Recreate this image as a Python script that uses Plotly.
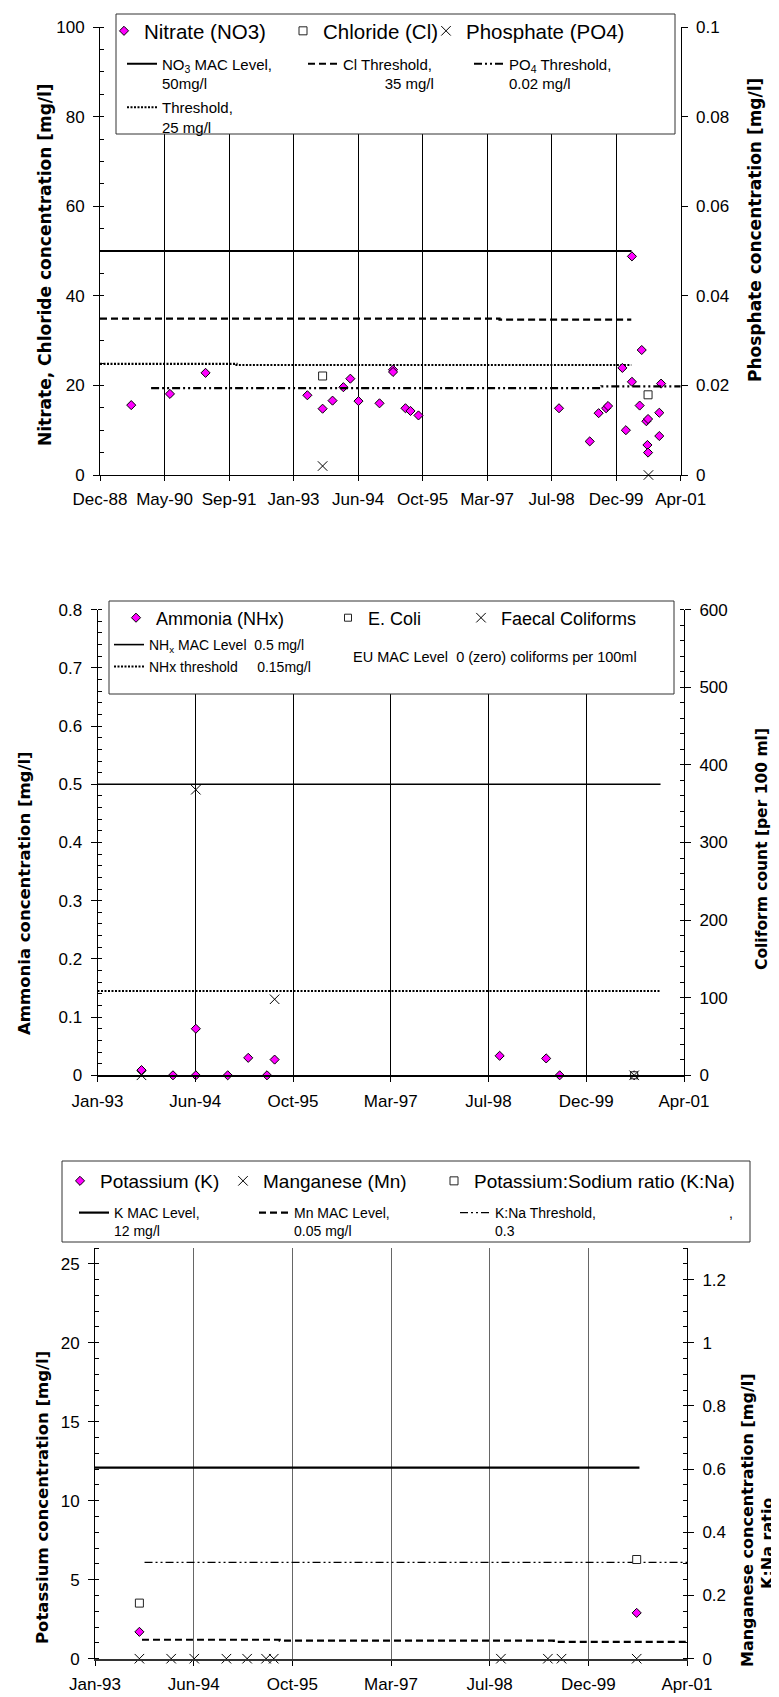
import plotly.graph_objects as go

W, H = 779, 1697
FONT = "Liberation Sans, Arial, sans-serif"
TFONT = "DejaVu Sans, Verdana, sans-serif"
MAG = "#FF00FF"

# ---------------- Chart 1 data ----------------
c1_ticks = ['1988-12-23', '1990-05-07', '1991-09-19', '1993-01-31', '1994-06-15',
            '1995-10-28', '1997-03-11', '1998-07-24', '1999-12-06', '2001-04-19']
no3_dates = ['1989-08-22', '1990-06-18', '1991-03-21', '1993-05-18', '1993-09-13',
             '1993-11-29', '1994-02-21', '1994-04-16', '1994-06-18', '1994-11-28',
             '1995-03-13', '1995-03-13', '1995-06-17', '1995-07-26', '1995-09-26',
             '1998-09-19', '1999-05-15', '1999-07-23', '1999-09-19', '1999-10-04',
             '2000-01-23', '2000-02-19', '2000-04-06', '2000-04-06', '2000-06-05',
             '2000-06-21', '2000-07-27', '2000-08-09', '2000-08-04', '2000-08-09',
             '2000-11-04', '2000-11-04', '2000-11-18']
no3_vals = [15.6, 18.1, 22.8, 17.8, 14.8,
            16.6, 19.6, 21.5, 16.5, 16.0,
            23.5, 23.0, 14.9, 14.3, 13.3,
            14.9, 7.5, 13.8, 14.9, 15.4,
            23.9, 10.0, 48.8, 20.8, 15.5,
            27.9, 12.0, 12.5, 6.7, 5.0,
            13.9, 8.7, 20.4]
cl_dates = ['1993-09-13', '2000-08-09']
cl_vals = [22.1, 17.9]
po4_dates = ['1993-09-13', '2000-08-12']
po4_vals = [0.002, 0.0]
no3_mac_dates = ['1988-12-23', '2000-04-03']
no3_mac_vals = [50, 50]
cl_thr_dates = ['1988-12-23', '1997-06-15', '2000-04-01']
cl_thr_vals = [34.9, 34.7, 34.7]
thr25_dates = ['1988-12-23', '1991-11-16', '2000-04-01']
thr25_vals = [24.8, 24.55, 24.55]
po4_thr_dates = ['1990-01-23', '1999-08-13', '2001-04-19']
po4_thr_vals = [0.0194, 0.0198, 0.0198]

# ---------------- Chart 2 data ----------------
c2_ticks = ['1993-01-31', '1994-06-15', '1995-10-28', '1997-03-11', '1998-07-24',
            '1999-12-06', '2001-04-19']
nh_dates = ['1993-09-13', '1994-02-21', '1994-06-18', '1994-06-18', '1994-11-28',
            '1995-03-13', '1995-06-17', '1995-07-26', '1998-09-19', '1999-05-15',
            '1999-07-23', '2000-08-07']
nh_vals = [0.009, 0.0, 0.08, 0.0, 0.0,
           0.03, 0.0, 0.027, 0.0335, 0.029,
           0.0, 0.0]
ecoli_dates = ['2000-08-07']
ecoli_vals = [0]
faecal_dates = ['1993-09-13', '1994-06-18', '1995-07-26', '2000-08-07']
faecal_vals = [0, 368, 98, 0]
nh_mac_dates = ['1993-01-31', '2000-12-20']
nh_mac_vals = [0.5, 0.5]
nh_thr_dates = ['1993-01-31', '2000-12-18']
nh_thr_vals = [0.145, 0.145]

# ---------------- Chart 3 data ----------------
k_dates = ['1993-09-13', '2000-08-07']
k_vals = [1.7, 2.9]
kna_dates = ['1993-09-13', '2000-08-07']
kna_vals = [0.176, 0.314]
mn_dates = ['1993-09-13', '1994-02-21', '1994-06-18', '1994-11-28', '1995-03-13',
            '1995-06-17', '1995-07-26', '1998-09-19', '1999-05-15', '1999-07-23',
            '2000-08-07']
mn_vals = [0, 0, 0, 0, 0, 0, 0, 0, 0, 0, 0]
k_mac_dates = ['1993-01-31', '2000-08-21']
k_mac_vals = [12.1, 12.1]
mn_mac_dates = ['1993-09-26', '1995-08-25', '1999-06-14', '2001-04-19']
mn_mac_vals = [0.060, 0.057, 0.053, 0.053]
kna_thr_dates = ['1993-10-09', '2001-04-19']
kna_thr_vals = [0.305, 0.305]


def px(x):
    return x / W


def py(y):
    return 1 - y / H


fig = go.Figure()


def line_trace(x, y, xa, ya, dash, width, leg, name, shape='linear', color='black'):
    fig.add_trace(go.Scatter(x=x, y=y, xaxis=xa, yaxis=ya, mode='lines', name=name,
                             line=dict(color=color, width=width, dash=dash, shape=shape),
                             legend=leg, showlegend=True, hoverinfo='skip'))


def diamond_trace(x, y, xa, ya, leg, name):
    fig.add_trace(go.Scatter(x=x, y=y, xaxis=xa, yaxis=ya, mode='markers', name=name,
                             cliponaxis=False,
                             marker=dict(symbol='diamond', size=7, color=MAG,
                                         line=dict(color='black', width=1)),
                             legend=leg, showlegend=True))


def square_trace(x, y, xa, ya, leg, name, size=8):
    fig.add_trace(go.Scatter(x=x, y=y, xaxis=xa, yaxis=ya, mode='markers', name=name,
                             cliponaxis=False,
                             marker=dict(symbol='square', size=size, color='white',
                                         line=dict(color='#222', width=1)),
                             legend=leg, showlegend=True))


def x_trace(x, y, xa, ya, leg, name):
    fig.add_trace(go.Scatter(x=x, y=y, xaxis=xa, yaxis=ya, mode='markers', name=name,
                             cliponaxis=False,
                             marker=dict(symbol='x-thin-open', size=9.5, color='black',
                                         line=dict(color='black', width=1)),
                             legend=leg, showlegend=True))


DASHDOT2 = "8px,3px,2px,3px,2px,3px"

# Chart 1
line_trace(no3_mac_dates, no3_mac_vals, 'x', 'y', 'solid', 2.2, 'legend4',
           'NO<sub>3</sub> MAC Level,<br>50mg/l')
line_trace(cl_thr_dates, cl_thr_vals, 'x', 'y', '7px,4px', 2.2, 'legend5',
           'Cl Threshold,<br>' + '&nbsp;' * 10 + '35 mg/l', shape='hv')
line_trace(thr25_dates, thr25_vals, 'x', 'y', '2px,1.5px', 2.2, 'legend7',
           'Threshold,<br>25 mg/l', shape='hv')
line_trace(po4_thr_dates, po4_thr_vals, 'x', 'y2', DASHDOT2, 2.2, 'legend6',
           'PO<sub>4</sub> Threshold,<br>0.02 mg/l', shape='hv')
diamond_trace(no3_dates, no3_vals, 'x', 'y', 'legend', 'Nitrate (NO3)')
square_trace(cl_dates, cl_vals, 'x', 'y', 'legend2', 'Chloride (Cl)')
x_trace(po4_dates, po4_vals, 'x', 'y2', 'legend3', 'Phosphate (PO4)')

# Chart 2
line_trace(nh_mac_dates, nh_mac_vals, 'x2', 'y3', 'solid', 1.6, 'legend11',
           'NH<sub>x</sub> MAC Level&nbsp;&nbsp;0.5 mg/l')
line_trace(nh_thr_dates, nh_thr_vals, 'x2', 'y3', '2px,1.5px', 2, 'legend12',
           'NHx threshold' + '&nbsp;' * 5 + '0.15mg/l')
square_trace(ecoli_dates, ecoli_vals, 'x2', 'y4', 'legend9', 'E. Coli', size=7)
diamond_trace(nh_dates, nh_vals, 'x2', 'y3', 'legend8', 'Ammonia (NHx)')
x_trace(faecal_dates, faecal_vals, 'x2', 'y4', 'legend10', 'Faecal Coliforms')

# Chart 3
line_trace(k_mac_dates, k_mac_vals, 'x3', 'y5', 'solid', 2.2, 'legend16',
           'K MAC Level,<br>12 mg/l')
line_trace(mn_mac_dates, mn_mac_vals, 'x3', 'y6', '7px,4px', 2.2, 'legend17',
           'Mn MAC Level,<br>0.05 mg/l', shape='hv')
line_trace(kna_thr_dates, kna_thr_vals, 'x3', 'y6', DASHDOT2, 1.2, 'legend18',
           'K:Na Threshold,<br>0.3')
diamond_trace(k_dates, k_vals, 'x3', 'y5', 'legend13', 'Potassium (K)')
x_trace(mn_dates, mn_vals, 'x3', 'y6', 'legend14', 'Manganese (Mn)')
square_trace(kna_dates, kna_vals, 'x3', 'y6', 'legend15', 'Potassium:Sodium ratio (K:Na)')


# ---------------- Axes ----------------
def xaxis(ticks, left, right, anchor, gridcolor='black', linecolor='black', lw=1):
    return dict(type='date', range=[ticks[0], ticks[-1]], domain=[px(left), px(right)],
                anchor=anchor, tickvals=ticks, tickformat='%b-%y', ticks='outside',
                ticklen=5, tickcolor='black', showline=True, linecolor=linecolor,
                linewidth=lw, showgrid=True, gridcolor=gridcolor, gridwidth=1,
                zeroline=False, tickfont=dict(size=17, family=FONT, color='black'),
                ticklabelstandoff=4, fixedrange=True)


def yaxis(top, bottom, rng, tickvals, ticktext, anchor, minor_dtick=None,
          side='left', overlaying=None):
    d = dict(domain=[py(bottom), py(top)], range=rng, tickvals=tickvals, ticktext=ticktext,
             ticks='outside', ticklen=6, tickcolor='black', showline=True,
             linecolor='black', linewidth=1, showgrid=False, zeroline=False,
             anchor=anchor, side=side,
             tickfont=dict(size=17, family=FONT, color='black'),
             ticklabelstandoff=5, fixedrange=True)
    if minor_dtick:
        d['minor'] = dict(dtick=minor_dtick, ticks='inside', ticklen=4,
                          tickcolor='black', tickwidth=1, showgrid=False)
    if overlaying:
        d['overlaying'] = overlaying
        d.pop('domain')
    return d


c1_left_ticks = [0, 20, 40, 60, 80, 100]
c1_right_ticks = [0, 0.02, 0.04, 0.06, 0.08, 0.1]
c2_left_ticks = [0, 0.1, 0.2, 0.3, 0.4, 0.5, 0.6, 0.7, 0.8]
c2_right_ticks = [0, 100, 200, 300, 400, 500, 600]
c3_left_ticks = [0, 5, 10, 15, 20, 25]
c3_right_ticks = [0, 0.2, 0.4, 0.6, 0.8, 1, 1.2]

fig.update_layout(
    xaxis=xaxis(c1_ticks, 92, 672.7, 'y'),
    yaxis=yaxis(19, 467, [0, 100], c1_left_ticks, [str(v) for v in c1_left_ticks], 'x', 5),
    yaxis2=yaxis(19, 467, [0, 0.1], c1_right_ticks, ['0', '0.02', '0.04', '0.06', '0.08', '0.1'],
                 'x', None, 'right', 'y'),
    xaxis2=xaxis(c2_ticks, 89.5, 676, 'y3', lw=1.6),
    yaxis3=yaxis(601.7, 1067.3, [0, 0.8], c2_left_ticks,
                 ['0', '0.1', '0.2', '0.3', '0.4', '0.5', '0.6', '0.7', '0.8'], 'x2', 0.02),
    yaxis4=yaxis(601.7, 1067.3, [0, 600], c2_right_ticks, [str(v) for v in c2_right_ticks],
                 'x2', 20, 'right', 'y3'),
    xaxis3=xaxis(c2_ticks, 87, 679, 'y5', gridcolor='#666666', linecolor='#333333', lw=2),
    yaxis5=yaxis(1240, 1650.7, [0, 26], c3_left_ticks, [str(v) for v in c3_left_ticks], 'x3', 1),
    yaxis6=yaxis(1240, 1650.7, [0, 1.3], c3_right_ticks,
                 ['0', '0.2', '0.4', '0.6', '0.8', '1', '1.2'], 'x3', 0.05, 'right', 'y5'),
)


# ---------------- Legends ----------------
def leg(x, y, size):
    return dict(x=px(x), y=py(y), xanchor='left', yanchor='middle', orientation='v',
                bgcolor='rgba(0,0,0,0)', borderwidth=0, itemwidth=30, valign='top',
                font=dict(size=size, family=FONT, color='black'),
                itemclick=False, itemdoubleclick=False, tracegroupgap=0)


fig.update_layout(
    legend=leg(96, 23, 20.5), legend2=leg(275, 23, 20.5), legend3=leg(418, 23, 20.5),
    legend4=leg(114, 65.5, 15), legend5=leg(295, 65.5, 15), legend6=leg(461, 65.5, 15),
    legend7=leg(114, 109, 15),
    legend8=leg(108, 610, 18), legend9=leg(320, 610, 18), legend10=leg(453, 610, 18),
    legend11=leg(101, 637, 14), legend12=leg(101, 659, 14),
    legend13=leg(52, 1173, 19), legend14=leg(215, 1173, 19), legend15=leg(426, 1173, 19),
    legend16=leg(66, 1214, 14), legend17=leg(246, 1214, 14), legend18=leg(447, 1214, 14),
)

# legend frames
boxes = [(108, 6, 667, 126), (101, 593, 666, 686), (54, 1153, 742, 1234)]
shapes = []
for x0, y0, x1, y1 in boxes:
    shapes.append(dict(type='rect', xref='paper', yref='paper', x0=px(x0), x1=px(x1),
                       y0=py(y1), y1=py(y0), fillcolor='white',
                       line=dict(color='#333333', width=1), layer='above'))
fig.update_layout(shapes=shapes)

# titles and notes
ann = []


def title(text, x, y, size=16.5):
    ann.append(dict(text='<b>' + text + '</b>', x=px(x), y=py(y), xref='paper', yref='paper',
                    showarrow=False, textangle=-90, xanchor='center', yanchor='middle',
                    font=dict(size=size, family=TFONT, color='black')))


title('Nitrate, Chloride concentration [mg/l]', 37, 257, 17)
title('Phosphate concentration [mg/l]', 747, 222, 17)
title('Ammonia concentration [mg/l]', 16, 885)
title('Coliform count [per 100 ml]', 754, 841, 15.5)
title('Potassium concentration [mg/l]', 34, 1490)
title('Manganese concentration [mg/l]', 739, 1512, 16)
title('K:Na ratio', 759, 1536, 16)

ann.append(dict(text='EU MAC Level&nbsp;&nbsp;0 (zero) coliforms per 100ml', x=px(343), y=py(649),
                xref='paper', yref='paper', showarrow=False, xanchor='left', yanchor='middle',
                font=dict(size=14.5, family=FONT, color='black')))
ann.append(dict(text=',', x=px(719), y=py(1205), xref='paper', yref='paper', showarrow=False,
                xanchor='left', yanchor='middle', font=dict(size=14, family=FONT, color='black')))
fig.update_layout(annotations=ann)

fig.update_layout(width=W, height=H, autosize=False,
                  margin=dict(l=0, r=0, t=0, b=0, pad=0, autoexpand=False),
                  paper_bgcolor='white', plot_bgcolor='white', showlegend=True,
                  font=dict(family=FONT, color='black'), hovermode=False)

fig.write_html("out.html")
